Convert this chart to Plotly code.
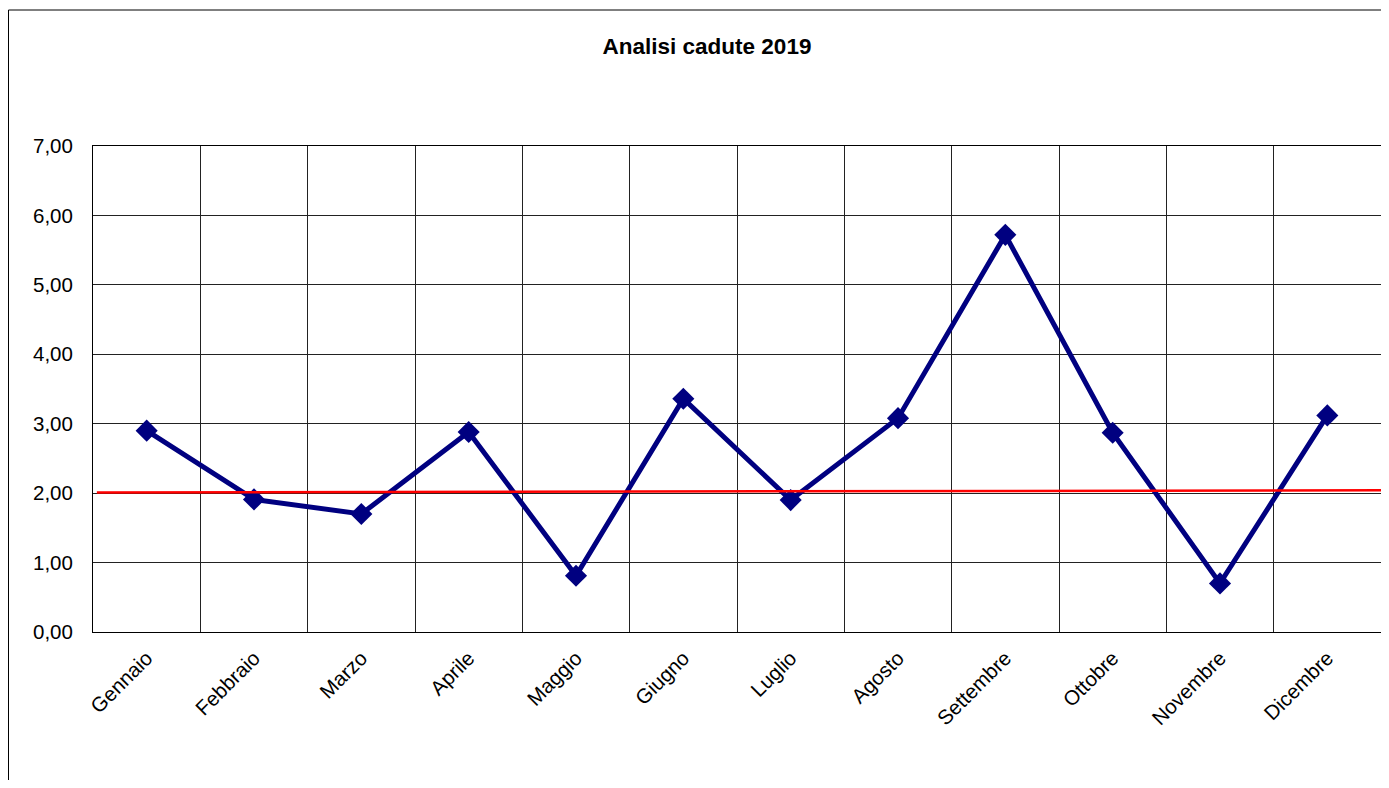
import plotly.graph_objects as go

months = ["Gennaio", "Febbraio", "Marzo", "Aprile", "Maggio", "Giugno",
          "Luglio", "Agosto", "Settembre", "Ottobre", "Novembre", "Dicembre"]
cadute = [2.90, 1.91, 1.70, 2.88, 0.81, 3.36, 1.90, 3.08, 5.72, 2.87, 0.70, 3.12]
soglia_start = 2.01
soglia_end = 2.04
y_ticks = [0, 1, 2, 3, 4, 5, 6, 7]
y_labels = ["0,00", "1,00", "2,00", "3,00", "4,00", "5,00", "6,00", "7,00"]

FONT = "Liberation Sans, Arial, sans-serif"

# figure is placed at an 8px page offset (default body margin)
W, H = 1373, 772
L, R, T, B = 85, 0, 138, 148
PW, PH = W - L - R, H - T - B

fig = go.Figure()
fig.add_trace(go.Scatter(
    x=months, y=cadute, mode="lines+markers",
    line=dict(color="#000080", width=5),
    marker=dict(symbol="diamond", size=17, color="#000080"),
    showlegend=False, hoverinfo="x+y",
))

fig.add_shape(type="line", xref="x domain", yref="y",
              x0=0.003, x1=1.0, y0=soglia_start, y1=soglia_end,
              line=dict(color="#FF0000", width=2.5), layer="above")

# outer chart frame (left and top edges visible)
fig.add_shape(type="rect", xref="paper", yref="paper",
              x0=(0.5 - L) / PW, x1=(W + 20 - L) / PW,
              y0=-(B + 20) / PH, y1=(PH + T - 2) / PH,
              line=dict(color="#000000", width=1), fillcolor="rgba(0,0,0,0)",
              layer="below")

fig.update_layout(
    width=W, height=H,
    margin=dict(l=L, r=R, t=T, b=B, pad=0),
    paper_bgcolor="white", plot_bgcolor="white",
    font=dict(family=FONT, color="black", size=20.5),
    title=dict(text="<b>Analisi cadute 2019</b>", xref="container", yref="container",
               x=699 / W, y=1 - 38 / H, xanchor="center", yanchor="middle",
               font=dict(family=FONT, size=22.5, color="black")),
)

fig.update_xaxes(
    type="category", categoryorder="array", categoryarray=months,
    range=[-0.5, 11.5],
    tickson="boundaries", showgrid=True, gridcolor="#222222", gridwidth=1,
    showline=True, linecolor="black", linewidth=1, mirror=True,
    ticks="", tickangle=-45, ticklabelstandoff=5,
    tickfont=dict(family=FONT, size=20.5, color="black"),
    zeroline=False,
)
fig.update_yaxes(
    range=[0, 7], tickmode="array", tickvals=y_ticks, ticktext=y_labels,
    showgrid=True, gridcolor="#222222", gridwidth=1,
    showline=True, linecolor="black", linewidth=1, mirror=True,
    ticks="", ticklabelstandoff=15,
    tickfont=dict(family=FONT, size=20.5, color="black"),
    zeroline=False,
)

fig.write_html("out.html")
